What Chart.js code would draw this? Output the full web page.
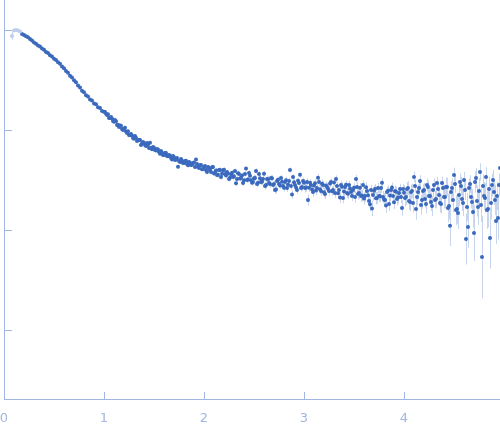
<!DOCTYPE html>
<html>
<head>
<meta charset="utf-8">
<script src="https://cdn.jsdelivr.net/npm/chart.js@4.4.1/dist/chart.umd.min.js"></script>
<style>
  html, body { margin: 0; padding: 0; background: #fff; }
  canvas { display: block; }
</style>
</head>
<body>
<canvas id="saxs" width="500" height="437"></canvas>
<script>
// points left out of the fit (drawn pale)
const qExcluded = [0.08, 0.10, 0.12, 0.14, 0.16];
const iExcluded = [0.871, 0.989, 1.00, 0.989, 0.966];

// scattering vector q
const qData = [
  0.18, 0.20, 0.22, 0.24, 0.26, 0.28, 0.30, 0.32, 0.34, 0.36,
  0.38, 0.40, 0.42, 0.44, 0.46, 0.48, 0.50, 0.52, 0.54, 0.56,
  0.58, 0.60, 0.62, 0.64, 0.66, 0.68, 0.70, 0.72, 0.74, 0.76,
  0.78, 0.80, 0.82, 0.84, 0.86, 0.88, 0.90, 0.92, 0.94, 0.96,
  0.98, 1.00,
  1.02, 1.04, 1.06, 1.08, 1.10, 1.12, 1.14, 1.16, 1.18, 1.20,
  1.22, 1.24, 1.26, 1.28, 1.30, 1.32, 1.34, 1.36, 1.38, 1.40,
  1.42, 1.44, 1.46, 1.48, 1.50, 1.52, 1.54, 1.56, 1.58, 1.60,
  1.62, 1.64, 1.66, 1.68, 1.70, 1.72, 1.74, 1.76, 1.78, 1.80,
  1.82, 1.84, 1.86, 1.88, 1.90, 1.92, 1.94, 1.96, 1.98, 2.00,
  2.02, 2.04, 2.06, 2.08, 2.10, 2.12, 2.14, 2.16, 2.18, 2.20,
  2.22, 2.24, 2.26, 2.28, 2.30, 2.32, 2.34, 2.36, 2.38, 2.40,
  2.42, 2.44, 2.46, 2.48, 2.50, 2.52, 2.54, 2.56, 2.58, 2.60,
  2.62, 2.64, 2.66, 2.68, 2.70, 2.72, 2.74, 2.76, 2.78, 2.80,
  2.82, 2.84, 2.86, 2.88, 2.90, 2.92, 2.94, 2.96, 2.98, 3.00,
  3.02, 3.04, 3.06, 3.08, 3.10, 3.12, 3.14, 3.16, 3.18, 3.20,
  3.22, 3.24, 3.26, 3.28, 3.30, 3.32, 3.34, 3.36, 3.38, 3.40,
  3.42, 3.44, 3.46, 3.48, 3.50, 3.52, 3.54, 3.56, 3.58, 3.60,
  3.62, 3.64, 3.66, 3.68, 3.70, 3.72, 3.74, 3.76, 3.78, 3.80,
  3.82, 3.84, 3.86, 3.88, 3.90, 3.92, 3.94, 3.96, 3.98, 4.00,
  4.02, 4.04, 4.06, 4.08, 4.10, 4.12, 4.14, 4.16, 4.18, 4.20,
  4.22, 4.24, 4.26, 4.28, 4.30, 4.32, 4.34, 4.36, 4.38, 4.40,
  4.42, 4.44, 4.46, 4.48, 4.50, 4.52, 4.54, 4.56, 4.58, 4.60,
  4.62, 4.64, 4.66, 4.68, 4.70, 4.72, 4.74, 4.76, 4.78, 4.80,
  4.82, 4.84, 4.86, 4.88, 4.90, 4.92, 4.94, 4.96
];

// intensity I(q), arbitrary units
const iData = [
  0.912, 0.893, 0.864, 0.846, 0.815, 0.783, 0.749, 0.729, 0.700, 0.682,
  0.652, 0.634, 0.604, 0.588, 0.559, 0.543, 0.516, 0.501, 0.475, 0.460,
  0.432, 0.415, 0.388, 0.373, 0.348, 0.335, 0.314, 0.300, 0.279, 0.266,
  0.247, 0.238, 0.222, 0.216, 0.202, 0.197, 0.184, 0.181, 0.169, 0.166,
  0.155, 0.152,
  0.145, 0.144, 0.132, 0.130, 0.121, 0.122, 0.113, 0.111, 0.102, 0.103,
  0.0968, 0.0972, 0.0887, 0.0881, 0.0815, 0.0836, 0.0789, 0.0794, 0.0731, 0.0741,
  0.0693, 0.0710, 0.0746, 0.0640, 0.0664, 0.0622, 0.0637, 0.0578, 0.0593, 0.0562,
  0.0587, 0.0546, 0.0552, 0.0506, 0.0533, 0.0506, 0.0428, 0.0478, 0.0492, 0.0467,
  0.0493, 0.0443, 0.0470, 0.0448, 0.0473, 0.0508, 0.0427, 0.0443, 0.0405, 0.0427,
  0.0399, 0.0427, 0.0397, 0.0424, 0.0368, 0.0394, 0.0356, 0.0399, 0.0365, 0.0401,
  0.0350, 0.0367, 0.0332, 0.0373, 0.0345, 0.0294, 0.0370, 0.0327, 0.0351, 0.0314,
  0.0411, 0.0320, 0.0348, 0.0297, 0.0330, 0.0389, 0.0296, 0.0329, 0.0304, 0.0366,
  0.0282, 0.0321, 0.0288, 0.0330, 0.0289, 0.0254, 0.0318, 0.0279, 0.0304, 0.0264,
  0.0315, 0.0284, 0.0399, 0.0226, 0.0300, 0.0266, 0.0311, 0.0356, 0.0269, 0.0296,
  0.0266, 0.0199, 0.0296, 0.0254, 0.0279, 0.0248, 0.0333, 0.0255, 0.0290, 0.0238,
  0.0278, 0.0258, 0.0292, 0.0244, 0.0299, 0.0323, 0.0233, 0.0211, 0.0271, 0.0243,
  0.0284, 0.0230, 0.0260, 0.0219, 0.0265, 0.0323, 0.0229, 0.0264, 0.0221, 0.0207,
  0.0267, 0.0223, 0.0181, 0.0164, 0.0247, 0.0208, 0.0263, 0.0218, 0.0296, 0.0202,
  0.0176, 0.0247, 0.0221, 0.0266, 0.0189, 0.0241, 0.0211, 0.0257, 0.0166, 0.0236,
  0.0214, 0.0263, 0.0191, 0.0245, 0.0339, 0.0162, 0.0240, 0.0309, 0.0200, 0.0251,
  0.0182, 0.0269, 0.0219, 0.0174, 0.0282, 0.0204, 0.0257, 0.0186, 0.0295, 0.0214,
  0.0269, 0.0166, 0.0110, 0.0263, 0.0355, 0.0158, 0.0148, 0.0302, 0.0204, 0.0316,
  0.00813, 0.0107, 0.0288, 0.0191, 0.00933, 0.0331, 0.0170, 0.0380, 0.00537, 0.0219,
  0.0339, 0.0162, 0.00832, 0.0282, 0.0240, 0.0123, 0.0132, 0.0417
];

// readings between the grid above, where the scatter is dense
const qMid = [
  1.01, 1.03, 1.05, 1.07, 1.09, 1.11, 1.13, 1.15, 1.17, 1.19,
  1.21, 1.23, 1.25, 1.27, 1.29, 1.31, 1.33, 1.35, 1.37, 1.39,
  1.41, 1.43, 1.45, 1.47, 1.49,
  1.51, 1.53, 1.55, 1.57, 1.59, 1.61, 1.63, 1.65, 1.67, 1.69,
  1.71, 1.73, 1.75, 1.77, 1.79, 1.81, 1.83, 1.85, 1.87, 1.89,
  1.91, 1.93, 1.95, 1.97, 1.99,
  2.01, 2.03, 2.05, 2.07, 2.09, 2.11, 2.13, 2.15, 2.17, 2.19,
  2.21, 2.23, 2.25, 2.27, 2.29, 2.31, 2.33, 2.35, 2.37, 2.39,
  2.41, 2.43, 2.45, 2.47, 2.49, 2.51, 2.53, 2.55, 2.57, 2.59,
  2.61, 2.63, 2.65, 2.67, 2.69, 2.71, 2.73, 2.75, 2.77, 2.79,
  2.81, 2.83, 2.85, 2.87, 2.89, 2.91, 2.93, 2.95, 2.97, 2.99,
  3.01, 3.03, 3.05, 3.07, 3.09, 3.11, 3.13, 3.15, 3.17, 3.19,
  3.21, 3.23, 3.25, 3.27, 3.29, 3.31, 3.33, 3.35, 3.37, 3.39,
  3.41, 3.43, 3.45, 3.47, 3.49, 3.51, 3.53, 3.55, 3.57, 3.59,
  3.61, 3.63, 3.65, 3.67, 3.69, 3.71, 3.73, 3.75, 3.77, 3.79,
  3.81, 3.83, 3.85, 3.87, 3.89, 3.91, 3.93, 3.95, 3.97, 3.99,
  4.01, 4.03, 4.05, 4.07, 4.09, 4.11, 4.13, 4.15, 4.17, 4.19,
  4.21, 4.23, 4.25, 4.27, 4.29, 4.31, 4.33, 4.35, 4.37, 4.39,
  4.41, 4.43, 4.45, 4.47, 4.49, 4.51, 4.53, 4.55, 4.57, 4.59,
  4.61, 4.63, 4.65, 4.67, 4.69, 4.71, 4.73, 4.75, 4.77, 4.79,
  4.81, 4.83, 4.85, 4.87, 4.89, 4.91, 4.93, 4.95
];
const iMid = [
  0.151, 0.141, 0.132, 0.135, 0.123, 0.126, 0.112, 0.107, 0.110, 0.100,
  0.105, 0.0933, 0.0891, 0.0912, 0.0832, 0.0871, 0.0776, 0.0794, 0.0708, 0.0759,
  0.0708, 0.0741, 0.0661, 0.0661, 0.0676,
  0.0631, 0.0646, 0.0603, 0.0617, 0.0562, 0.0589, 0.0550, 0.0562, 0.0525, 0.0550,
  0.0501, 0.0525, 0.0490, 0.0513, 0.0468, 0.0490, 0.0457, 0.0479, 0.0447, 0.0468,
  0.0427, 0.0457, 0.0417, 0.0447, 0.0407,
  0.0437, 0.0380, 0.0417, 0.0380, 0.0427, 0.0378, 0.0355, 0.0398, 0.0339, 0.0395,
  0.0363, 0.0380, 0.0324, 0.0360, 0.0339, 0.0389, 0.0324, 0.0363, 0.0331, 0.0295,
  0.0363, 0.0316, 0.0372, 0.0314, 0.0302, 0.0331, 0.0288, 0.0363, 0.0302, 0.0324,
  0.0275, 0.0324, 0.0295, 0.0331, 0.0282, 0.0251, 0.0309, 0.0288, 0.0331, 0.0275,
  0.0302, 0.0263, 0.0309, 0.0275, 0.0339, 0.0282, 0.0251, 0.0295, 0.0263, 0.0309,
  0.0263, 0.0302, 0.0265, 0.0282, 0.0240, 0.0293, 0.0263, 0.0302, 0.0245, 0.0282,
  0.0229, 0.0269, 0.0245, 0.0302, 0.0251, 0.0234, 0.0275, 0.0251, 0.0282, 0.0209,
  0.0269, 0.0234, 0.0282, 0.0240, 0.0251, 0.0214, 0.0269, 0.0234, 0.0219, 0.0282,
  0.0219, 0.0245, 0.0195, 0.0251, 0.0224, 0.0257, 0.0209, 0.0219, 0.0263, 0.0214,
  0.0200, 0.0240, 0.0182, 0.0251, 0.0219, 0.0245, 0.0204, 0.0234, 0.0214, 0.0257,
  0.0209, 0.0257, 0.0195, 0.0240, 0.0186, 0.0275, 0.0214, 0.0263, 0.0178, 0.0245,
  0.0204, 0.0282, 0.0219, 0.0191, 0.0251, 0.0200, 0.0295, 0.0224, 0.0182, 0.0263,
  0.0214, 0.0269, 0.0174, 0.0240, 0.0200, 0.0288, 0.0162, 0.0224, 0.0275, 0.0186,
  0.0251, 0.0170, 0.0263, 0.0214, 0.0151, 0.0302, 0.0195, 0.0245, 0.0178, 0.0275,
  0.0209, 0.0158, 0.0257, 0.0186, 0.0316, 0.0200, 0.0219, 0.0282
];

// measurement error (sigma) by q range: band starts at errEdges[i]
const errEdges = [0, 0.09, 0.5, 1.0, 1.5, 2.0, 2.5, 3.0, 3.5, 4.0, 4.4, 4.7];
const errSigma = [0.078, 0.004, 0.003, 0.0025, 0.002, 0.0022, 0.0024, 0.0028, 0.0032, 0.0045, 0.0065, 0.0085];

const xTicks = [0, 1, 2, 3, 4];
const yTicks = [1, 0.1, 0.01, 0.001];

const axisColor = '#a2b6e2';

function sigmaAt(q) {
  let s = errSigma[0];
  errEdges.forEach((edge, i) => { if (q >= edge) s = errSigma[i]; });
  return s;
}

const toPoints = (qs, is) => qs.map((q, i) => ({ x: q, y: is[i] }));

// error bars, drawn under the points
const errorBars = {
  id: 'errorBars',
  beforeDatasetsDraw(chart) {
    const { ctx, chartArea, scales: { x, y } } = chart;
    ctx.save();
    ctx.beginPath();
    ctx.rect(chartArea.left, chartArea.top, chartArea.right - chartArea.left, chartArea.bottom - chartArea.top);
    ctx.clip();
    ctx.lineWidth = 1;
    chart.data.datasets.forEach(ds => {
      ctx.strokeStyle = ds.errColor;
      ds.data.forEach(p => {
        const f = 1 + sigmaAt(p.x) / p.y;
        const px = Math.round(x.getPixelForValue(p.x)) + 0.5;
        ctx.beginPath();
        ctx.moveTo(px, y.getPixelForValue(p.y * f));
        ctx.lineTo(px, y.getPixelForValue(p.y / f));
        ctx.stroke();
      });
    });
    ctx.restore();
  }
};

// tick marks point into the plot
const innerTicks = {
  id: 'innerTicks',
  afterDraw(chart) {
    const { ctx, chartArea, scales: { x, y } } = chart;
    ctx.save();
    ctx.strokeStyle = axisColor;
    ctx.lineWidth = 1;
    ctx.beginPath();
    xTicks.forEach(v => {
      const px = Math.round(x.getPixelForValue(v)) + 0.5;
      ctx.moveTo(px, chartArea.bottom);
      ctx.lineTo(px, chartArea.bottom - 7);
    });
    yTicks.forEach(v => {
      const py = Math.round(y.getPixelForValue(v)) + 0.5;
      ctx.moveTo(chartArea.left, py);
      ctx.lineTo(chartArea.left + 8, py);
    });
    ctx.stroke();
    ctx.restore();
  }
};

new Chart(document.getElementById('saxs'), {
  type: 'scatter',
  data: {
    datasets: [{
      label: 'excluded',
      data: toPoints(qExcluded, iExcluded),
      backgroundColor: '#bfcdea',
      errColor: 'rgba(190, 205, 234, 0.9)',
      pointRadius: 2,
      borderWidth: 0
    }, {
      label: 'I(q)',
      data: toPoints(qData, iData).concat(toPoints(qMid, iMid)),
      backgroundColor: '#3a69bd',
      errColor: 'rgba(176, 196, 230, 0.7)',
      pointRadius: 2,
      borderWidth: 0
    }]
  },
  options: {
    responsive: false,
    animation: false,
    layout: { autoPadding: false, padding: { left: 4, right: 0, top: 0, bottom: 0 } },
    plugins: {
      legend: { display: false },
      tooltip: { enabled: false }
    },
    scales: {
      x: {
        type: 'linear',
        min: 0,
        max: 4.96,
        grid: { display: false, drawTicks: false },
        border: { color: axisColor },
        afterBuildTicks: s => { s.ticks = xTicks.map(v => ({ value: v })); },
        afterFit: s => { s.height = 38; s.paddingLeft = 0; s.paddingRight = 0; },
        ticks: {
          color: axisColor,
          padding: 12,
          font: { family: 'DejaVu Sans', size: 13 }
        }
      },
      y: {
        type: 'logarithmic',
        min: 0.000204,
        max: 1.995,
        grid: { display: false, drawTicks: false },
        border: { color: axisColor },
        afterBuildTicks: s => { s.ticks = yTicks.map(v => ({ value: v })); },
        afterFit: s => { s.width = 0; s.paddingTop = 0; s.paddingBottom = 0; },
        ticks: { display: false }
      }
    }
  },
  plugins: [errorBars, innerTicks]
});
</script>
</body>
</html>
